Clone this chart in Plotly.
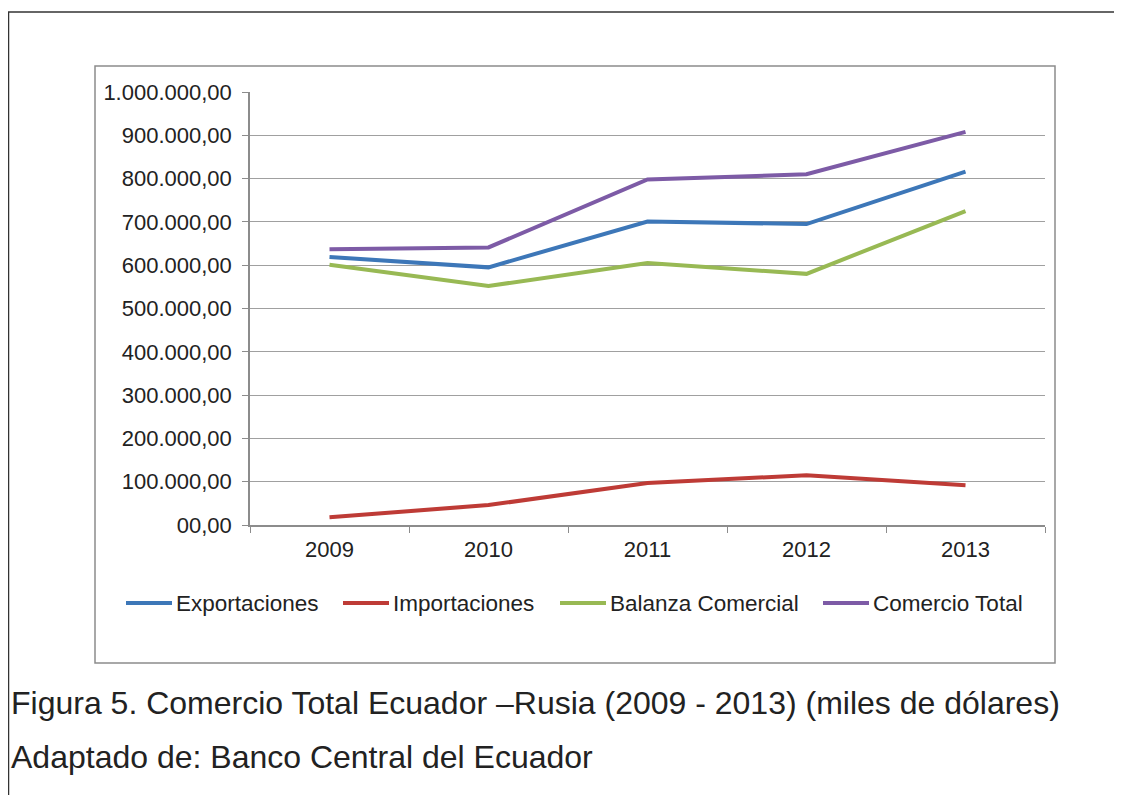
"""Comercio Total Ecuador - Rusia (2009-2013)"""
import plotly.graph_objects as go

years = ["2009", "2010", "2011", "2012", "2013"]
exportaciones = [619000, 595000, 701000, 695000, 816000]
importaciones = [18000, 46000, 97000, 115000, 92000]
balanza = [601000, 552000, 605000, 580000, 725000]
comercio_total = [637000, 641000, 798000, 810000, 908000]

y_ticks = [0, 100000, 200000, 300000, 400000, 500000, 600000, 700000, 800000, 900000, 1000000]
y_labels = ["00,00", "100.000,00", "200.000,00", "300.000,00", "400.000,00", "500.000,00",
            "600.000,00", "700.000,00", "800.000,00", "900.000,00", "1.000.000,00"]

SERIES = [
    ("Exportaciones", exportaciones, "#3D77B8"),
    ("Importaciones", importaciones, "#BE3B36"),
    ("Balanza Comercial", balanza, "#98B954"),
    ("Comercio Total", comercio_total, "#7D5BA6"),
]
# legend entries laid out like the Excel original (screen x of line start)
LEGEND_X = [126, 343, 560, 823]
LEGEND_Y = 603

# page body has an 8px margin, so the figure starts at (8, 8) on screen
OFF = 8
W, H = 1122 - OFF, 795 - OFF
L, R, T, B = 250, 1045, 92, 525   # plot area in screen pixels


def px_x(x):
    return (x - L) / (R - L)


def px_y(y):
    return (B - y) / (B - T)


FONT = "Liberation Sans, Arial, sans-serif"

fig = go.Figure()
for (name, vals, color), lx in zip(SERIES, LEGEND_X):
    fig.add_trace(go.Scatter(
        x=years, y=vals, name=name, mode="lines",
        line=dict(color=color, width=4),
    ))
    # manual legend entry (Plotly's own legend wraps to two rows here)
    fig.add_shape(type="line", xref="paper", yref="paper",
                  x0=px_x(lx), x1=px_x(lx + 46), y0=px_y(LEGEND_Y), y1=px_y(LEGEND_Y),
                  line=dict(color=color, width=4))
    fig.add_annotation(text=name, xref="paper", yref="paper",
                       x=px_x(lx + 48), y=px_y(LEGEND_Y), xanchor="left",
                       yanchor="middle", showarrow=False,
                       font=dict(size=22.5, color="#222222", family=FONT))

# chart box + outer page frame
fig.add_shape(type="rect", xref="paper", yref="paper",
              x0=px_x(95), x1=px_x(1055), y0=px_y(663), y1=px_y(66),
              line=dict(color="#8C8C8C", width=1.5), layer="below")
fig.add_shape(type="line", xref="paper", yref="paper",
              x0=px_x(8), x1=px_x(1122), y0=px_y(12), y1=px_y(12),
              line=dict(color="#333333", width=1.5))
fig.add_shape(type="line", xref="paper", yref="paper",
              x0=px_x(8.5), x1=px_x(8.5), y0=px_y(12), y1=px_y(795),
              line=dict(color="#333333", width=1.5))

fig.add_annotation(text="Figura 5. Comercio Total Ecuador –Rusia (2009 - 2013) (miles de dólares)",
                   xref="paper", yref="paper", x=px_x(9), y=px_y(703),
                   xanchor="left", yanchor="middle", showarrow=False,
                   font=dict(size=32, color="#222222", family=FONT))
fig.add_annotation(text="Adaptado de: Banco Central del Ecuador",
                   xref="paper", yref="paper", x=px_x(9), y=px_y(757),
                   xanchor="left", yanchor="middle", showarrow=False,
                   font=dict(size=32, color="#222222", family=FONT))

fig.update_layout(
    width=W, height=H,
    margin=dict(l=L - OFF, r=1122 - R, t=T - OFF, b=795 - B),
    plot_bgcolor="white", paper_bgcolor="white",
    font=dict(family=FONT, size=22, color="#222222"),
    showlegend=False,
    xaxis=dict(type="category", range=[-0.5, 4.5], showline=True,
               linecolor="#8C8C8C", linewidth=1.5, ticks="outside",
               tickson="boundaries", ticklen=6, tickcolor="#8C8C8C",
               showgrid=False, ticklabelstandoff=4, fixedrange=True),
    yaxis=dict(range=[0, 1000000], tickvals=y_ticks, ticktext=y_labels,
               showline=True, linecolor="#8C8C8C", linewidth=1.5,
               ticks="outside", ticklen=6, tickcolor="#8C8C8C",
               gridcolor="#A0A0A0", gridwidth=1.2, zeroline=False,
               ticklabelstandoff=6, fixedrange=True),
)

fig.write_html("out.html")
